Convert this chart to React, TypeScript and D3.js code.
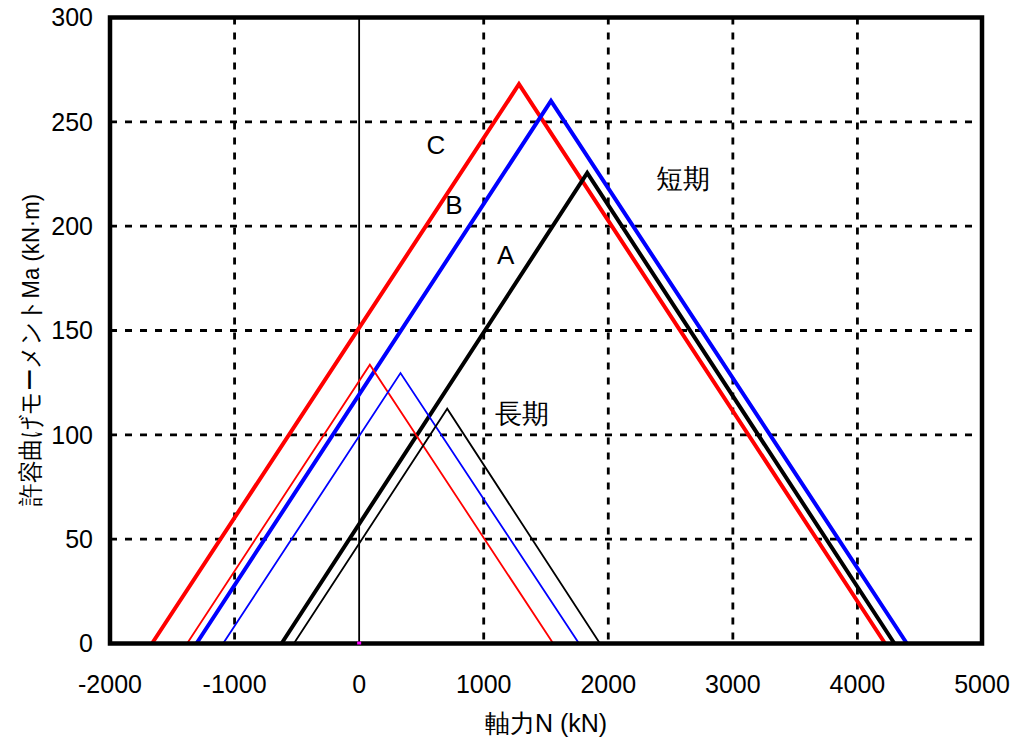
import React from 'react';
import * as d3 from 'd3';

// x-axis: axial force N (kN); y-axis: allowable moment Ma (kN·m)
const xTicks = [-2000, -1000, 0, 1000, 2000, 3000, 4000, 5000];
const yTicks = [0, 50, 100, 150, 200, 250, 300];

// short-term (thick) curves: [N, Ma]
const shortC: [number, number][] = [[-1663, 0], [1283, 268], [4222, 0]];
const shortB: [number, number][] = [[-1306, 0], [1540, 260], [4397, 0]];
const shortA: [number, number][] = [[-623, 0], [1831, 225.5], [4297, 0]];
// long-term (thin) curves
const longC: [number, number][] = [[-1381, 0], [86, 133.6], [1558, 0]];
const longB: [number, number][] = [[-1092, 0], [332, 129.6], [1765, 0]];
const longA: [number, number][] = [[-524, 0], [707, 112.5], [1933, 0]];

const labels = [
  { text: 'C', n: 616, m: 239, size: 26 },
  { text: 'B', n: 760, m: 210, size: 26 },
  { text: 'A', n: 1176, m: 186, size: 26 },
  { text: '短期', n: 2600, m: 223, size: 27 },
  { text: '長期', n: 1306, m: 110, size: 27 },
];

const series = [
  { data: shortC, color: '#ff0000', w: 4 },
  { data: shortB, color: '#0000ff', w: 4 },
  { data: shortA, color: '#000000', w: 4 },
  { data: longC, color: '#ff0000', w: 1.8 },
  { data: longB, color: '#0000ff', w: 1.8 },
  { data: longA, color: '#000000', w: 1.8 },
];

const L = 110, R = 982, T = 17.5, B = 643.5;
const font = 'Liberation Sans, Arial, sans-serif';

export default function App() {
  const x = d3.scaleLinear().domain([-2000, 5000]).range([L, R]);
  const y = d3.scaleLinear().domain([0, 300]).range([B, T]);
  const line = d3.line<[number, number]>().x(d => x(d[0])).y(d => y(d[1]));

  return (
    <svg width={1012} height={743} style={{ position: 'absolute', left: 0, top: 0, background: '#fff' }}>
      <rect x={0} y={0} width={1012} height={743} fill="#fff" />
      {/* grid */}
      {xTicks.filter(t => t !== -2000 && t !== 0 && t !== 5000).map(t => (
        <line key={'gx' + t} x1={x(t)} x2={x(t)} y1={T} y2={B} stroke="#000" strokeWidth={2.8} strokeDasharray="7 8" />
      ))}
      {yTicks.filter(t => t !== 0 && t !== 300).map(t => (
        <line key={'gy' + t} x1={L} x2={R} y1={y(t)} y2={y(t)} stroke="#000" strokeWidth={2.8} strokeDasharray="7 8" />
      ))}
      {/* zero line */}
      <line x1={x(0)} x2={x(0)} y1={T} y2={B} stroke="#000" strokeWidth={1.8} />
      {/* curves */}
      {series.map((s, i) => (
        <path key={i} d={line(s.data) || ''} fill="none" stroke={s.color} strokeWidth={s.w} strokeLinejoin="miter" />
      ))}
      {/* frame */}
      <rect x={L} y={T} width={R - L} height={B - T} fill="none" stroke="#000" strokeWidth={4.5} />
      <rect x={x(0) - 2} y={B - 2} width={4} height={3} fill="#ff00ff" />
      {/* tick labels */}
      {xTicks.map(t => (
        <text key={'tx' + t} x={x(t)} y={693} textAnchor="middle" fontFamily={font} fontSize={25}>{t}</text>
      ))}
      {yTicks.map(t => (
        <text key={'ty' + t} x={93} y={y(t)} dy="0.35em" textAnchor="end" fontFamily={font} fontSize={25}>{t}</text>
      ))}
      {/* series labels */}
      {labels.map(l => (
        <text key={l.text} x={x(l.n)} y={y(l.m)} dy="0.35em" textAnchor="middle" fontFamily={font} fontSize={l.size}>{l.text}</text>
      ))}
      {/* axis titles */}
      <text x={546} y={732} textAnchor="middle" fontFamily={font} fontSize={25}>軸力N (kN)</text>
      <text transform="translate(39,350) rotate(-90)" textAnchor="middle" fontFamily={font} fontSize={24.5} textLength={312} lengthAdjust="spacingAndGlyphs">許容曲げモーメントMa (kN·m)</text>
    </svg>
  );
}
